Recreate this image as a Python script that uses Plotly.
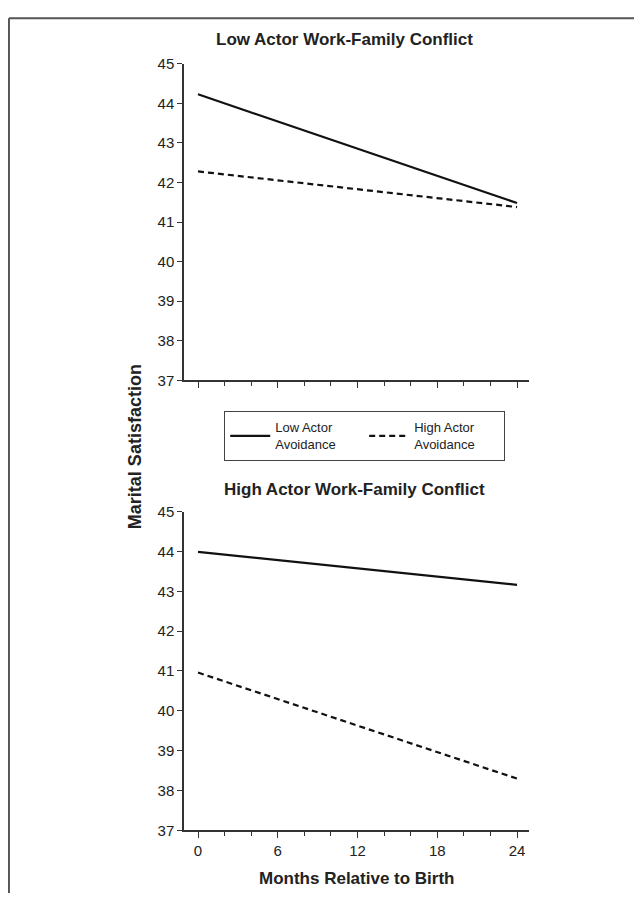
import plotly.graph_objects as go

# Data
months = [0, 24]
low_wfc_low_avoid = [44.23, 41.48]
low_wfc_high_avoid = [42.28, 41.38]
high_wfc_low_avoid = [43.99, 43.16]
high_wfc_high_avoid = [40.96, 38.30]
panel_titles = ["Low Actor Work-Family Conflict", "High Actor Work-Family Conflict"]
series_names = ["Low Actor<br>Avoidance", "High Actor<br>Avoidance"]
x_ticks = [0, 6, 12, 18, 24]
y_ticks = [37, 38, 39, 40, 41, 42, 43, 44, 45]

# figure sized to fit inside the page's default 8px body margin
OFF = 8
W, H = 642 - 2 * OFF, 901 - 2 * OFF
FONT = "Arial, Liberation Sans, sans-serif"
TXT = "#222222"
AX = "#333333"

# screen-pixel -> paper helpers (empirical screen mapping)
SY, OY = 0.9826, 15.06

def px_x(p):
    return (p - OFF) / W

def px_y(p):
    return 1 - ((p - OY) / SY) / H

fig = go.Figure()

line_solid = dict(color="#111111", width=2.2)
line_dash = dict(color="#111111", width=2.2, dash="6px,4px")

fig.add_trace(go.Scatter(x=months, y=low_wfc_low_avoid, mode="lines", line=line_solid,
                         name=series_names[0], xaxis="x", yaxis="y", showlegend=True))
fig.add_trace(go.Scatter(x=months, y=low_wfc_high_avoid, mode="lines", line=line_dash,
                         name=series_names[1], xaxis="x", yaxis="y", showlegend=True))
fig.add_trace(go.Scatter(x=months, y=high_wfc_low_avoid, mode="lines", line=line_solid,
                         name=series_names[0], xaxis="x2", yaxis="y2", showlegend=False))
fig.add_trace(go.Scatter(x=months, y=high_wfc_high_avoid, mode="lines", line=line_dash,
                         name=series_names[1], xaxis="x2", yaxis="y2", showlegend=False))

xdom = [px_x(184), px_x(529)]
xrange = [-1.053, 24.9]

def xaxis(show_labels, anchor):
    return dict(domain=xdom, range=xrange, anchor=anchor, showgrid=False, zeroline=False,
                showline=True, linecolor=AX, linewidth=1.5,
                tickmode="array", tickvals=x_ticks, ticks="outside", ticklen=6,
                tickcolor=AX, tickwidth=1.2, showticklabels=show_labels,
                tickfont=dict(family=FONT, size=15, color=TXT),
                minor=dict(dtick=2, tick0=0, ticks="outside", ticklen=3.5, tickcolor=AX, tickwidth=1.2),
                fixedrange=True)

def yaxis(dom, anchor):
    return dict(domain=dom, range=[37, 45], anchor=anchor, showgrid=False, zeroline=False,
                showline=True, linecolor=AX, linewidth=1.5,
                tickmode="array", tickvals=y_ticks, ticks="outside", ticklen=5,
                tickcolor=AX, tickwidth=1.2,
                tickfont=dict(family=FONT, size=15, color=TXT), fixedrange=True)

fig.update_layout(
    width=W, height=H,
    margin=dict(l=0, r=0, t=0, b=0),
    paper_bgcolor="white", plot_bgcolor="white",
    xaxis=xaxis(False, "y"),
    yaxis=yaxis([px_y(379), px_y(62)], "x"),
    xaxis2=xaxis(True, "y2"),
    yaxis2=yaxis([px_y(830), px_y(510.5)], "x2"),
    showlegend=True,
    legend=dict(orientation="h", x=px_x(224), y=px_y(410), xanchor="left", yanchor="top",
                bordercolor="#444444", borderwidth=1.2, bgcolor="white",
                font=dict(family=FONT, size=13, color=TXT), itemwidth=40,
                entrywidth=84, valign="middle", tracegroupgap=0),
)

annotations = [
    dict(text="<b>" + panel_titles[0] + "</b>", x=px_x(344), y=px_y(38), xref="paper", yref="paper",
         showarrow=False, font=dict(family=FONT, size=17, color=TXT), xanchor="center", yanchor="middle"),
    dict(text="<b>" + panel_titles[1] + "</b>", x=px_x(354), y=px_y(488), xref="paper", yref="paper",
         showarrow=False, font=dict(family=FONT, size=17, color=TXT), xanchor="center", yanchor="middle"),
    dict(text="<b>Marital Satisfaction</b>", x=px_x(135), y=px_y(446), xref="paper", yref="paper",
         showarrow=False, textangle=-90, font=dict(family=FONT, size=18, color=TXT),
         xanchor="center", yanchor="middle"),
    dict(text="<b>Months Relative to Birth</b>", x=px_x(357), y=px_y(878), xref="paper", yref="paper",
         showarrow=False, font=dict(family=FONT, size=17, color=TXT), xanchor="center", yanchor="middle"),
]
fig.update_layout(annotations=annotations)

fig.update_layout(shapes=[
    dict(type="line", xref="paper", yref="paper", x0=0.0015, x1=1.01, y0=0.9985, y1=0.9985,
         line=dict(color="#555555", width=2)),
    dict(type="line", xref="paper", yref="paper", x0=0.0015, x1=0.0015, y0=0.9985, y1=-0.01,
         line=dict(color="#555555", width=2)),
])

fig.write_html("out.html")
